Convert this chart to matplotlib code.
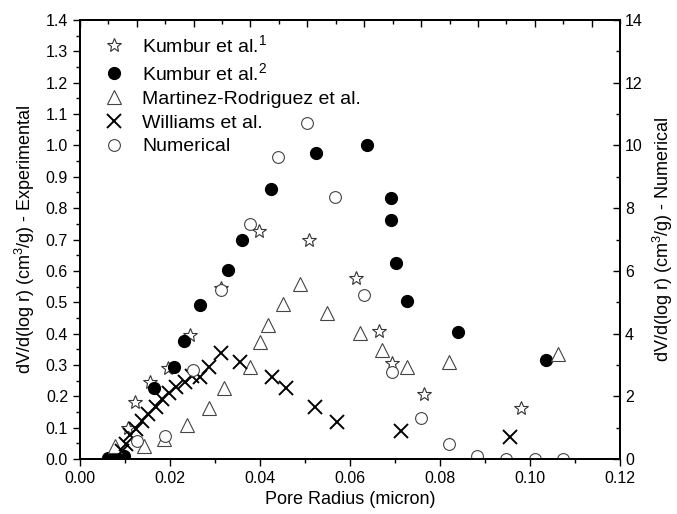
import matplotlib
matplotlib.use("Agg")
import matplotlib.pyplot as plt
from matplotlib.ticker import MultipleLocator, NullFormatter

plt.rcParams['font.family'] = ['Liberation Sans', 'DejaVu Sans']
plt.rcParams['mathtext.fontset'] = 'custom'
plt.rcParams['mathtext.rm'] = 'Liberation Sans'
plt.rcParams['mathtext.it'] = 'Liberation Sans'

# Kumbur et al. (1) - open stars
kumbur1_r = [0.0107, 0.0122, 0.0156, 0.0196, 0.0244, 0.0314, 0.0398, 0.0510,
             0.0613, 0.0664, 0.0694, 0.0764, 0.0980]
kumbur1_v = [0.098, 0.183, 0.245, 0.289, 0.394, 0.545, 0.727, 0.698,
             0.578, 0.408, 0.305, 0.207, 0.164]

# Kumbur et al. (2) - filled circles
kumbur2_r = [0.0063, 0.0081, 0.0098, 0.0165, 0.0210, 0.0231, 0.0267, 0.0330,
             0.0361, 0.0424, 0.0524, 0.0637, 0.0690, 0.0690, 0.0702, 0.0726,
             0.0839, 0.1035]
kumbur2_v = [0.002, 0.002, 0.010, 0.228, 0.294, 0.377, 0.492, 0.603,
             0.700, 0.861, 0.977, 1.000, 0.833, 0.762, 0.624, 0.503,
             0.404, 0.315]

# Martinez-Rodriguez et al. - open triangles
martinez_r = [0.0078, 0.0143, 0.0187, 0.0238, 0.0286, 0.0320, 0.0378, 0.0400,
              0.0417, 0.0452, 0.0489, 0.0550, 0.0622, 0.0672, 0.0727, 0.0820,
              0.1062]
martinez_v = [0.042, 0.042, 0.065, 0.108, 0.162, 0.227, 0.294, 0.372,
              0.427, 0.494, 0.557, 0.467, 0.401, 0.348, 0.294, 0.308,
              0.335]

# Williams et al. - crosses
williams_r = [0.0094, 0.0103, 0.0112, 0.0124, 0.0137, 0.0152, 0.0168, 0.0183,
              0.0199, 0.0214, 0.0233, 0.0250, 0.0267, 0.0287, 0.0313, 0.0356,
              0.0426, 0.0458, 0.0522, 0.0570, 0.0713, 0.0956]
williams_v = [0.025, 0.048, 0.075, 0.095, 0.120, 0.142, 0.165, 0.190,
              0.212, 0.230, 0.246, 0.265, 0.262, 0.294, 0.337, 0.310,
              0.262, 0.228, 0.165, 0.117, 0.090, 0.069]

# Numerical results (right axis)
numerical_r = [0.0126, 0.0188, 0.0252, 0.0314, 0.0378, 0.0441, 0.0504, 0.0567,
               0.0630, 0.0693, 0.0757, 0.0820, 0.0883, 0.0947, 0.1010, 0.1073]
numerical_v = [0.57, 0.74, 2.84, 5.39, 7.49, 9.64, 10.72, 8.36,
               5.23, 2.76, 1.32, 0.48, 0.11, 0.0, 0.0, 0.0]

fig = plt.figure(figsize=(6.77, 5.14), dpi=100)
ax = fig.add_axes([0.118, 0.107, 0.798, 0.854])
ax2 = ax.twinx()

h1, = ax.plot(kumbur1_r, kumbur1_v, linestyle='none', marker='*', ms=10,
              mfc='white', mec='#333333', mew=0.8, label='Kumbur et al.$^1$')
h2, = ax.plot(kumbur2_r, kumbur2_v, linestyle='none', marker='o', ms=8.5,
              mfc='black', mec='black', label='Kumbur et al.$^2$')
h3, = ax.plot(martinez_r, martinez_v, linestyle='none', marker='^', ms=10,
              mfc='white', mec='#444444', mew=0.8,
              label='Martinez-Rodriguez et al.')
h4, = ax.plot(williams_r, williams_v, linestyle='none', marker='x', ms=9.5,
              mec='black', mew=1.4, label='Williams et al.')
h5, = ax2.plot(numerical_r, numerical_v, linestyle='none', marker='o', ms=8.5,
               mfc='white', mec='#444444', mew=0.8, label='Numerical')

ax.set_xlim(0, 0.12)
ax.set_ylim(0, 1.4)
ax2.set_ylim(0, 14)

ax.xaxis.set_major_locator(MultipleLocator(0.02))
ax.xaxis.set_minor_locator(MultipleLocator(0.01))
ax.yaxis.set_major_locator(MultipleLocator(0.1))
ax.yaxis.set_minor_locator(MultipleLocator(0.05))
ax.xaxis.set_major_formatter(plt.FuncFormatter(lambda v, p: f'{v:.2f}'))
ax.yaxis.set_major_formatter(plt.FuncFormatter(lambda v, p: f'{v:.1f}'))
ax2.yaxis.set_major_locator(MultipleLocator(2))
ax2.yaxis.set_minor_locator(MultipleLocator(1))

ax.tick_params(axis='both', which='major', direction='out', length=5,
               width=1, labelsize=11.5)
ax.tick_params(axis='both', which='minor', direction='out', length=3, width=1)
ax2.tick_params(axis='y', which='major', direction='in', length=5, width=1,
                labelsize=11.5)
ax2.tick_params(axis='y', which='minor', direction='in', length=3, width=1)

# unlabeled ticks along the top edge
top = ax.twiny()
top.set_xlim(0, 9.5)
top.xaxis.set_major_locator(MultipleLocator(1))
top.xaxis.set_minor_locator(MultipleLocator(0.5))
top.xaxis.set_major_formatter(NullFormatter())
top.tick_params(axis='x', which='major', direction='in', length=5, width=1)
top.tick_params(axis='x', which='minor', direction='in', length=3, width=1)

for a in (ax, ax2, top):
    for s in a.spines.values():
        s.set_linewidth(1.2)

ax.set_xlabel('Pore Radius (micron)', fontsize=13, labelpad=4)
ax.set_ylabel('dV/d(log r) (cm$^3$/g) - Experimental', fontsize=13, labelpad=6)
ax2.set_ylabel('dV/d(log r) (cm$^3$/g) - Numerical', fontsize=13, labelpad=6)

top.legend(handles=[h1, h2, h3, h4, h5], loc='upper left',
           bbox_to_anchor=(0.02, 0.995), frameon=False, fontsize=14,
           handletextpad=0.85, labelspacing=0.32, borderaxespad=0.2,
           handlelength=1.2)

fig.savefig('out.png', dpi=100)
